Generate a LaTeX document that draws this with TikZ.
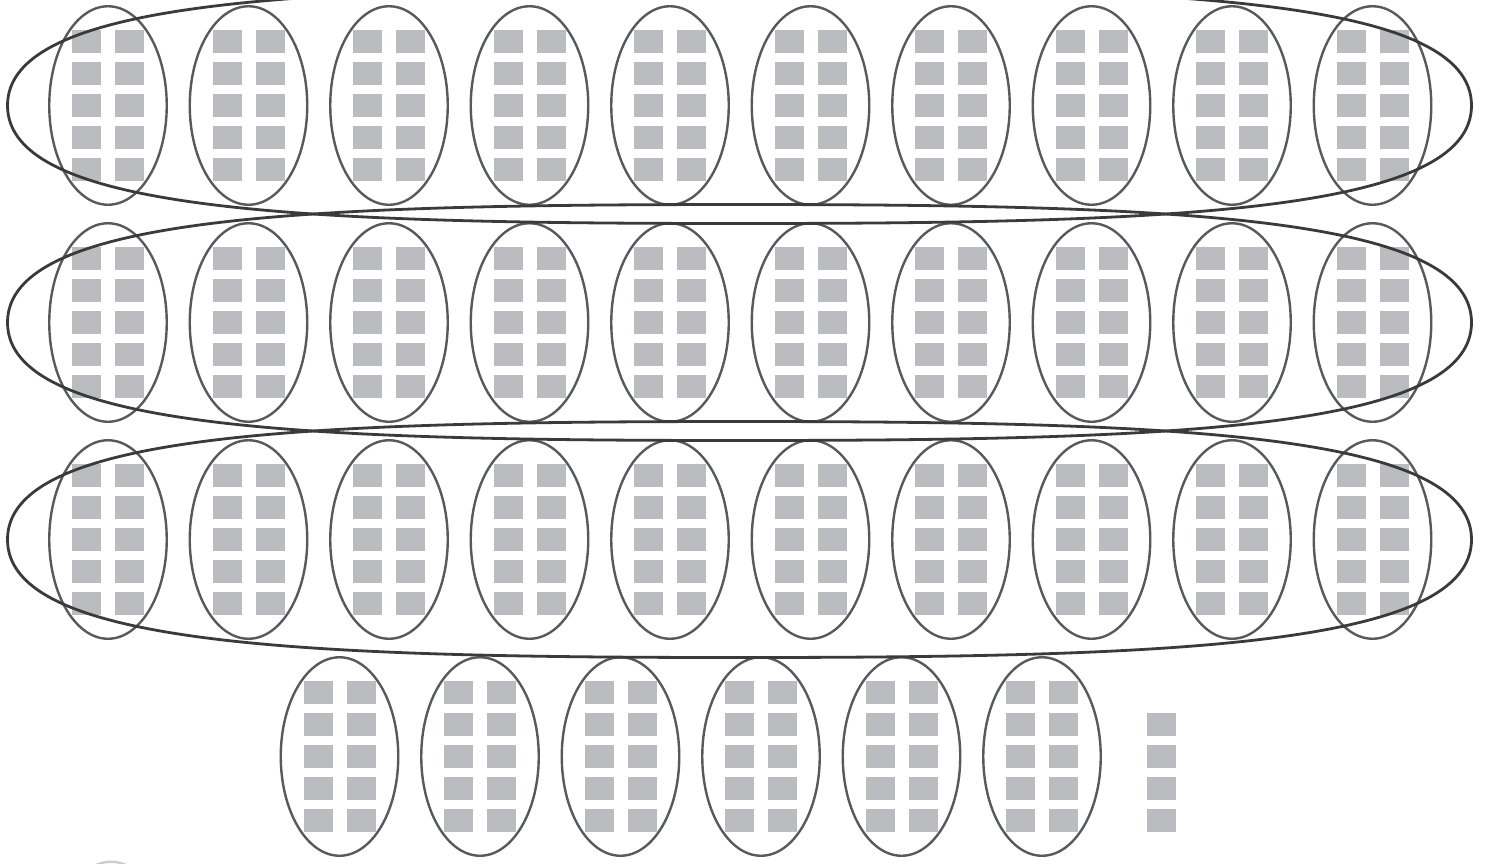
\documentclass[tikz,border=0pt]{standalone}
\usetikzlibrary{shapes.geometric}
\definecolor{seatgray}{HTML}{BBBCBF}
\definecolor{ringgray}{HTML}{58595B}
\definecolor{bandgray}{HTML}{3A3A3A}
\begin{document}
\begin{tikzpicture}[
  x=1pt, y=-1pt,
  seat/.style={rectangle, fill=seatgray, minimum width=29pt, minimum height=23pt, inner sep=0pt},
  table/.style={ellipse, draw=ringgray, line width=2.4pt, minimum width=117.5pt, minimum height=198.5pt, inner sep=0pt},
  band/.style={draw=bandgray, line width=2.8pt}
]
  \useasboundingbox (0,0) rectangle (1487,863);
  \clip (0,0) rectangle (1487,863);
  % three full rows of tables
  \foreach \r in {0,1,2} {
    \foreach \i in {0,...,9} {
      \pgfmathsetmacro{\cx}{108+140.5*\i}
      \pgfmathsetmacro{\cy}{105.5+217*\r}
      \foreach \c/\dx in {a/-21.5,b/21.5}
        \foreach \k/\dy in {1/-64,2/-32,3/0,4/32,5/64}
          \node[seat] (s-\r-\i-\c\k) at ({\cx+\dx},{\cy+\dy}) {};
      \node[table] (t-\r-\i) at (\cx,\cy) {};
    }
  }
  % last row, not full
  \foreach \j in {0,...,5} {
    \pgfmathsetmacro{\cx}{339.5+140.5*\j}
    \foreach \c/\dx in {a/-21.5,b/21.5}
      \foreach \k/\dy in {1/-64,2/-32,3/0,4/32,5/64}
        \node[seat] (s-3-\j-\c\k) at ({\cx+\dx},{756.5+\dy}) {};
    \node[table] (t-3-\j) at (\cx,756.5) {};
  }
  % loose seats
  \foreach \k/\dy in {2/-32,3/0,4/32,5/64}
    \node[seat] (s-x-\k) at (1161,{756.5+\dy}) {};
  % faint table cut off at the bottom
  \node[table, draw=ringgray!30] (t-faint) at (111,961) {};
  % one band round each full row
  \foreach \r in {0,1,2} {
    \pgfmathsetmacro{\cy}{105.5+217*\r}
    \draw[band] (7.5,\cy) .. controls (7.5,{\cy-106}) and (300.5,{\cy-118}) .. (739.5,{\cy-118})
      .. controls (1178.5,{\cy-118}) and (1471.5,{\cy-106}) .. (1471.5,\cy)
      .. controls (1471.5,{\cy+106}) and (1178.5,{\cy+118}) .. (739.5,{\cy+118})
      .. controls (300.5,{\cy+118}) and (7.5,{\cy+106}) .. cycle;
  }
\end{tikzpicture}
\end{document}
